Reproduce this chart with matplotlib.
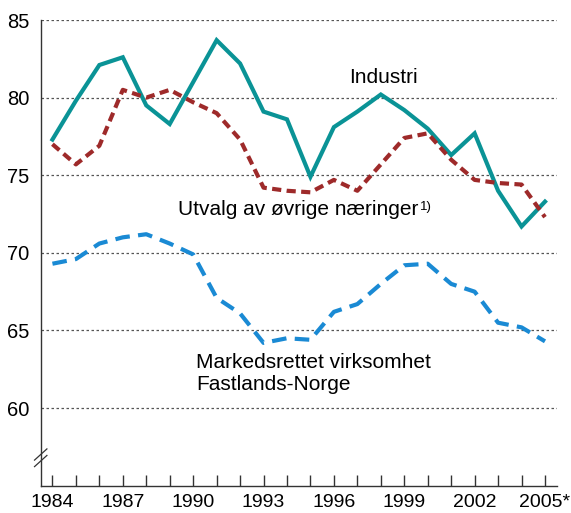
import matplotlib
matplotlib.use("Agg")
import matplotlib.pyplot as plt

years = list(range(1984, 2006))
industri = [77.3, 79.8, 82.1, 82.6, 79.5, 78.3, 81.0, 83.7, 82.2, 79.1, 78.6,
            74.9, 78.1, 79.1, 80.2, 79.2, 78.0, 76.3, 77.7, 74.0, 71.7, 73.3]
utvalg = [77.0, 75.7, 76.9, 80.5, 80.0, 80.5, 79.7, 79.0, 77.3, 74.2, 74.0,
          73.9, 74.7, 74.0, 75.7, 77.4, 77.7, 76.0, 74.7, 74.5, 74.4, 72.3]
marked = [69.3, 69.6, 70.6, 71.0, 71.2, 70.6, 69.9, 67.1, 66.1, 64.2, 64.5,
          64.4, 66.2, 66.7, 68.0, 69.2, 69.3, 68.0, 67.5, 65.5, 65.2, 64.3]
xtick_years = [1984, 1987, 1990, 1993, 1996, 1999, 2002, 2005]
xtick_labels = ["1984", "1987", "1990", "1993", "1996", "1999", "2002", "2005*"]
yticks = [60, 65, 70, 75, 80, 85]

plt.rcParams['font.family'] = ['Liberation Sans', 'DejaVu Sans']

fig = plt.figure(figsize=(5.71, 5.13), dpi=100)
ax = fig.add_axes([0.0713, 0.0532, 0.975 - 0.0713, 0.961 - 0.0532])

for y in yticks:
    ax.axhline(y, color='#555555', lw=0.9, ls=(0, (2, 2)), zorder=1)

ax.plot(years, industri, color='#0A9396', lw=3.0, solid_joinstyle='miter', zorder=3)
ax.plot(years, utvalg, color='#9E2A2A', lw=3.0, ls=(0, (2.2, 1.3)), zorder=4)
ax.plot(years, marked, color='#1A8AD4', lw=3.0, ls=(0, (3.5, 2.0)), zorder=4)

ax.set_xlim(1983.5, 2005.5)
ax.set_ylim(55, 85)
ax.set_yticks(yticks)
ax.set_yticklabels([str(v) for v in yticks], fontsize=14.5)
ax.tick_params(axis='y', length=0, pad=8)

label_map = dict(zip(xtick_years, xtick_labels))
ax.set_xticks(years)
ax.set_xticklabels([label_map.get(y, "") for y in years], fontsize=14)
ax.tick_params(axis='x', direction='in', length=8, width=1, color='#333333', pad=6)

for s in ['top', 'right']:
    ax.spines[s].set_visible(False)
for s in ['left', 'bottom']:
    ax.spines[s].set_color('#333333')
    ax.spines[s].set_linewidth(1.0)

# axis break marks
for dy in (-0.007, 0.007):
    ax.plot([-0.012, 0.012], [0.06 + dy - 0.012, 0.06 + dy + 0.012],
            transform=ax.transAxes, color='#333333', lw=0.9, clip_on=False)

ax.text(1998.1, 81.3, "Industri", fontsize=15, ha='center', va='center')
t = ax.text(1989.35, 72.8, "Utvalg av øvrige næringer", fontsize=15, ha='left', va='center')
ax.annotate("1)", xy=(1.0, 0.62), xycoords=t, xytext=(1, 0), textcoords='offset points',
            fontsize=9.5, ha='left', va='center')
ax.text(1990.14, 62.2, "Markedsrettet virksomhet\nFastlands-Norge", fontsize=15,
        ha='left', va='center', linespacing=1.2)

fig.savefig("out.png", dpi=100)
